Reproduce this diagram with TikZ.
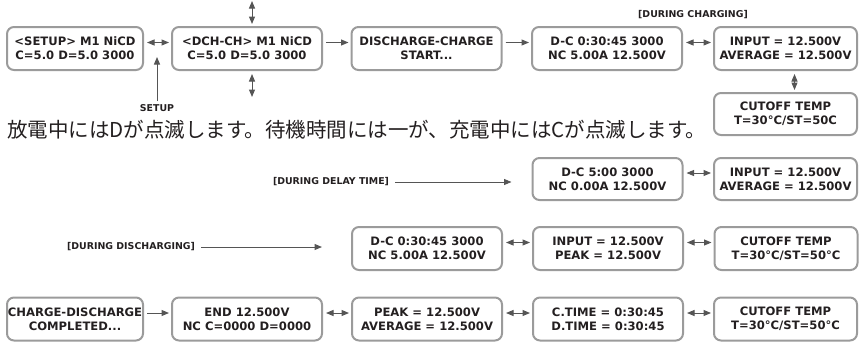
\documentclass[tikz,border=0pt]{standalone}
\usepackage{fontspec}
\setmainfont{DejaVu Sans}
\newfontfamily\jpfont{Noto Sans CJK JP}
\usetikzlibrary{arrows.meta}
\definecolor{boxgray}{HTML}{9B9B9B}
\definecolor{arrgray}{HTML}{555555}
\definecolor{ink}{HTML}{231F20}
\begin{document}
\begin{tikzpicture}[x=1pt,y=-1pt,
  lcd/.style={draw=boxgray, line width=2pt, rounded corners=7pt, minimum height=43pt, minimum width=150pt, inner sep=0pt, align=center, font=\fontsize{11.6}{14}\selectfont\bfseries, text=ink},
  narrow/.style={minimum width=136pt},
  wide/.style={minimum width=143pt},
  lbl/.style={font=\fontsize{9.4}{11}\selectfont\bfseries, text=ink, inner sep=0pt},
  one/.style={-{Triangle[length=7.5pt,width=6pt]}, draw=arrgray, fill=arrgray, line width=1pt},
  two/.style={{Triangle[length=7.5pt,width=6pt]}-{Triangle[length=7.5pt,width=6pt]}, draw=arrgray, fill=arrgray, line width=1pt, shorten <=3pt, shorten >=2pt},
]
\useasboundingbox (0,0) rectangle (861,343);
% row 1
\node[lcd,narrow] (A) at (75,48.5) {<SETUP> M1 NiCD\\C=5.0 D=5.0 3000};
\node[lcd] (B) at (247,48.5) {<DCH-CH> M1 NiCD\\C=5.0 D=5.0 3000};
\node[lcd] (C) at (426.5,48.5) {DISCHARGE-CHARGE\\START...};
\node[lcd] (D) at (607,48.5) {D-C 0:30:45 3000\\NC 5.00A 12.500V};
\node[lcd,wide] (E) at (785.5,48.5) {INPUT = 12.500V\\AVERAGE = 12.500V};
\node[lcd,wide,minimum height=42pt] (F) at (785.5,114) {CUTOFF TEMP\\T=30°C/ST=50C};
\node[lbl] (dc) at (693,15) {[DURING CHARGING]};
\node[lbl] (setup) at (157,108) {SETUP};
\coordinate (st) at (157,57);
\coordinate (bt) at (252,1);
\coordinate (bb) at (252,97);
\draw[two] ([yshift=6pt]A.east) -- ([yshift=6pt]B.west);
\draw[one, shorten <=3pt, shorten >=2pt] ([yshift=6pt]B.east) -- ([yshift=6pt]C.west);
\draw[one, shorten <=3pt, shorten >=2pt] ([yshift=6pt]C.east) -- ([yshift=6pt]D.west);
\draw[two] ([yshift=6pt]D.east) -- ([yshift=6pt]E.west);
\draw[one, shorten <=3pt] (setup.north) -- (st);
\draw[two, shorten <=0pt] (bt) -- (bt |- B.north);
\draw[two, shorten >=0pt] (bt |- B.south) -- (bb);
\draw[two] ([xshift=9pt]E.south) -- ([xshift=9pt]F.north);
% japanese line
\node[anchor=west, inner sep=0pt, text=ink, font=\jpfont\fontsize{20.5}{25}\selectfont] (jp) at (7,130) {放電中にはDが点滅します。待機時間には一が、充電中にはCが点滅します。};
% row 2
\node[lcd,minimum height=42pt] (G) at (607.5,179) {D-C 5:00 3000\\NC 0.00A 12.500V};
\node[lcd,wide,minimum height=42pt] (H) at (785.5,179) {INPUT = 12.500V\\AVERAGE = 12.500V};
\node[lbl] (dl) at (331,182) {[DURING DELAY TIME]};
\draw[one, shorten <=6pt, shorten >=20pt] (dl.east) -- (dl.east -| G.west);
\draw[two] ([yshift=6pt]G.east) -- ([yshift=6pt]H.west);
% row 3
\node[lcd] (I) at (427,248.5) {D-C 0:30:45 3000\\NC 5.00A 12.500V};
\node[lcd] (J) at (608,248.5) {INPUT = 12.500V\\PEAK = 12.500V};
\node[lcd,wide] (K) at (786,248.5) {CUTOFF TEMP\\T=30°C/ST=50°C};
\node[lbl] (dd) at (131,247) {[DURING DISCHARGING]};
\draw[one, shorten <=6pt, shorten >=29pt] (dd.east) -- (dd.east -| I.west);
\draw[two] ([yshift=6pt]I.east) -- ([yshift=6pt]J.west);
\draw[two] ([yshift=6pt]J.east) -- ([yshift=6pt]K.west);
% row 4
\node[lcd,narrow] (L) at (75,319) {CHARGE-DISCHARGE\\COMPLETED...};
\node[lcd] (M) at (247,319) {END 12.500V\\NC C=0000 D=0000};
\node[lcd] (N) at (427,319) {PEAK = 12.500V\\AVERAGE = 12.500V};
\node[lcd] (O) at (608,319) {C.TIME = 0:30:45\\D.TIME = 0:30:45};
\node[lcd,wide] (P) at (785.5,319) {CUTOFF TEMP\\T=30°C/ST=50°C};
\draw[one, shorten <=3pt, shorten >=2pt] ([yshift=6pt]L.east) -- ([yshift=6pt]M.west);
\draw[two] ([yshift=6pt]M.east) -- ([yshift=6pt]N.west);
\draw[two] ([yshift=6pt]N.east) -- ([yshift=6pt]O.west);
\draw[two] ([yshift=6pt]O.east) -- ([yshift=6pt]P.west);
\end{tikzpicture}
\end{document}
